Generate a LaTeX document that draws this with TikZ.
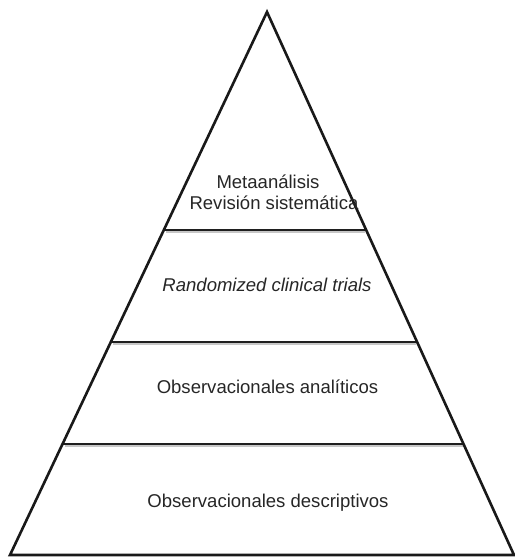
\documentclass[tikz,border=0pt]{standalone}
\usepackage{fontspec}
\setmainfont{Liberation Sans}
\usetikzlibrary{calc}
\tikzset{
  edge/.style={line width=2.6bp, draw=black!90, line join=miter},
  tier/.style={line width=2.1bp, draw=black!88},
  tiershadow/.style={line width=2bp, draw=black!22},
  lbl/.style={anchor=base, inner sep=0pt, text=black!85, font=\fontsize{18.6}{21}\selectfont}
}
\begin{document}
\begin{tikzpicture}[x=1bp,y=-1bp]
\useasboundingbox (0,0) rectangle (515,559);
\coordinate (apex) at (267,12);
\coordinate (bl) at (10,555);
\coordinate (br) at (514,555);
\coordinate (l1) at ($(apex)!0.4015!(bl)$);
\coordinate (r1) at ($(apex)!0.4015!(br)$);
\coordinate (l2) at ($(apex)!0.6077!(bl)$);
\coordinate (r2) at ($(apex)!0.6077!(br)$);
\coordinate (l3) at ($(apex)!0.7956!(bl)$);
\coordinate (r3) at ($(apex)!0.7956!(br)$);
% shadows of tier lines
\foreach \a/\b in {l1/r1,l2/r2,l3/r3}{
  \draw[tiershadow] ($(\a)+(2,2.2)$) -- ($(\b)+(-1,2.2)$);
}
\draw[tier] (l1) -- (r1);
\draw[tier] (l2) -- (r2);
\draw[tier] (l3) -- (r3);
\draw[edge] (bl) -- (apex) -- (br) -- cycle;
\node[lbl] (meta) at (268,189) {Metaanálisis};
\node[lbl] (rev) at (274,210) {Revisión sistemática};
\node[lbl] (rct) at (267,291) {\itshape Randomized clinical trials};
\node[lbl] (oa) at (267.5,393) {Observacionales analíticos};
\node[lbl] (od) at (268,507) {Observacionales descriptivos};
\end{tikzpicture}
\end{document}
